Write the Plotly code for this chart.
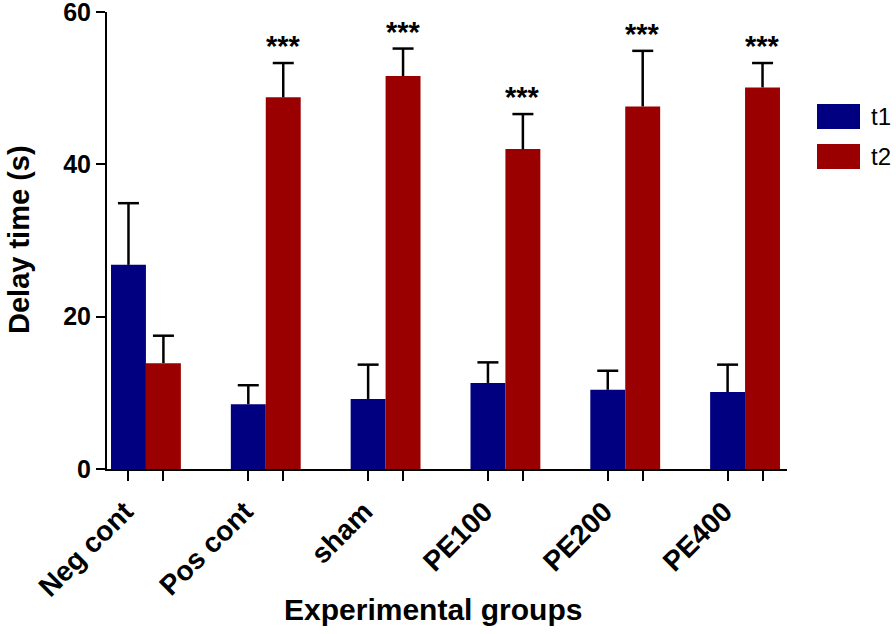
import plotly.graph_objects as go

groups = ["Neg cont", "Pos cont", "sham", "PE100", "PE200", "PE400"]
t1_mean = [26.8, 8.5, 9.2, 11.3, 10.4, 10.1]
t1_err = [8.1, 2.5, 4.5, 2.7, 2.5, 3.6]
t2_mean = [13.9, 48.8, 51.6, 42.0, 47.6, 50.1]
t2_err = [3.6, 4.5, 3.6, 4.6, 7.3, 3.2]
sig = ["", "***", "***", "***", "***", "***"]
y_ticks = [0, 20, 40, 60]

BLUE = "#000080"
RED = "#9B0000"
FONT = "Liberation Sans, Arial, sans-serif"
W, H = 896, 634

offset = 0.146
xrange = [-0.325, 5.35]

fig = go.Figure()
for name, means, errs, color, sgn in [("t1", t1_mean, t1_err, BLUE, -1),
                                      ("t2", t2_mean, t2_err, RED, 1)]:
    fig.add_trace(go.Bar(
        x=groups, y=means, name=name, marker=dict(color=color, line=dict(width=0)),
        error_y=dict(type="data", symmetric=False, array=errs, arrayminus=[0] * len(groups),
                     color="black", thickness=2.5, width=0),
        showlegend=False,
    ))
    # error bar caps
    fig.add_trace(go.Scatter(
        x=[i + sgn * offset for i in range(len(groups))],
        y=[m + e for m, e in zip(means, errs)],
        xaxis="x2", mode="markers", showlegend=False, hoverinfo="skip",
        marker=dict(symbol="line-ew", size=15, line=dict(width=2.5, color="black")),
    ))

bar_ticks = []
for i in range(len(groups)):
    bar_ticks += [i - offset, i + offset]

# significance stars
for g, m, e, s in zip(groups, t2_mean, t2_err, sig):
    if s:
        fig.add_annotation(x=g, y=m + e, text="<b>" + s + "</b>", showarrow=False,
                           xshift=17.5, yshift=-1, yanchor="bottom",
                           font=dict(family=FONT, size=29, color="black"))

fig.update_layout(
    width=W, height=H,
    margin=dict(l=107, r=W - 787, t=12, b=H - 469, autoexpand=False),
    plot_bgcolor="white", paper_bgcolor="white",
    barmode="group", bargap=0.417, bargroupgap=0,
    font=dict(family=FONT, color="black"),
    xaxis=dict(
        type="category", range=xrange, showline=True, linecolor="black", linewidth=2,
        ticks="", showgrid=False, zeroline=False, tickangle=-45,
        tickfont=dict(family=FONT, size=28, color="black", weight="bold"),
        ticklabelstandoff=13, ticklabelshift=-21, ticklabeloverflow="allow",
    ),
    xaxis2=dict(
        overlaying="x", range=xrange, tickvals=bar_ticks, showticklabels=False,
        ticks="outside", ticklen=11, tickwidth=2, tickcolor="black",
        showline=False, showgrid=False, zeroline=False, side="bottom", anchor="y",
    ),
    yaxis=dict(
        range=[0, 60.0001], tickvals=y_ticks, showline=True, linecolor="black", linewidth=2,
        ticks="outside", ticklen=9, tickwidth=2, tickcolor="black",
        showgrid=False, zeroline=False, ticklabeloverflow="allow",
        tickfont=dict(family=FONT, size=25, color="black", weight="bold"),
    ),
)

# y axis title
fig.add_annotation(xref="paper", yref="paper", x=-(107 - 19) / 680, y=(469 - 239) / 457,
                   text="<b>Delay time (s)</b>", showarrow=False, textangle=-90,
                   xanchor="center", yanchor="middle",
                   font=dict(family=FONT, size=29, color="black"))
# x axis title
fig.add_annotation(xref="paper", yref="paper", x=(433 - 107) / 680, y=-(609 - 469) / 457,
                   text="<b>Experimental groups</b>", showarrow=False,
                   xanchor="center", yanchor="middle",
                   font=dict(family=FONT, size=30, color="black"))

# legend
legend_items = [("t1", BLUE, 104), ("t2", RED, 144)]
for label, color, ytop in legend_items:
    fig.add_shape(type="rect", xref="paper", yref="paper",
                  x0=(817 - 107) / 680, x1=(860 - 107) / 680,
                  y0=(469 - ytop - 25) / 457, y1=(469 - ytop) / 457,
                  fillcolor=color, line=dict(width=0))
    fig.add_annotation(xref="paper", yref="paper", x=(869 - 107) / 680,
                       y=(469 - ytop - 12.5) / 457, text=label, showarrow=False,
                       xanchor="left", yanchor="middle",
                       font=dict(family=FONT, size=24, color="black"))

fig.write_html("out.html", config={"displayModeBar": False},
               post_script="document.body.style.margin='0';")
